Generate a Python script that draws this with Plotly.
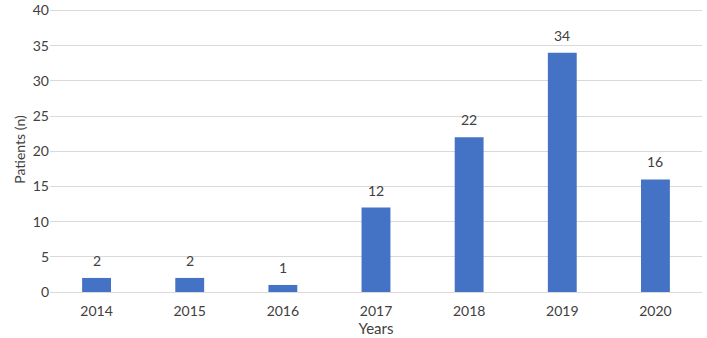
import plotly.graph_objects as go

years = ["2014", "2015", "2016", "2017", "2018", "2019", "2020"]
patients = [2, 2, 1, 12, 22, 34, 16]
y_ticks = [0, 5, 10, 15, 20, 25, 30, 35, 40]

font_family = "Lato, Open Sans, sans-serif"
text_color = "#404040"

fig = go.Figure()
fig.add_trace(go.Bar(
    x=years, y=patients,
    marker=dict(color="#4472C4", line=dict(width=0)),
    width=0.31,
    hoverinfo="skip",
))

for i, (yr, v) in enumerate(zip(years, patients)):
    fig.add_annotation(
        x=i, y=v, text=str(v), showarrow=False,
        xref="x", yref="y",
        yanchor="bottom", yshift=7,
        font=dict(family=font_family, size=14, color=text_color),
    )

fig.update_layout(
    width=707, height=338,
    margin=dict(l=50, r=5, t=6.5, b=46, autoexpand=False),
    paper_bgcolor="white", plot_bgcolor="white",
    showlegend=False,
    font=dict(family=font_family, size=14, color=text_color),
    xaxis=dict(
        type="category",
        automargin=False,
        title=dict(text="Years", font=dict(size=15), standoff=2),
        showgrid=False,
        showline=True, linecolor="#d9d9d9", linewidth=1,
        ticks="outside", ticklen=6, tickcolor="rgba(0,0,0,0)",
        tickfont=dict(size=14),
    ),
    yaxis=dict(
        automargin=False,
        title=dict(text="Patients (n)", font=dict(size=14), standoff=3),
        range=[0, 40.5],
        tickvals=y_ticks,
        ticklabeloverflow="allow",
        showgrid=True, gridcolor="#d9d9d9", gridwidth=1,
        zeroline=False, showline=False,
        ticks="", tickfont=dict(size=14),
    ),
)

fig.write_html("out.html", config={"displayModeBar": False},
               post_script="document.body.style.margin='0';")
